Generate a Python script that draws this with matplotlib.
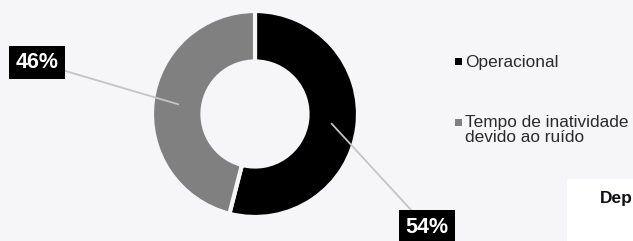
import numpy as np
import matplotlib
matplotlib.use("Agg")
import matplotlib.pyplot as plt
from matplotlib.patches import Rectangle

plt.rcParams['font.family'] = ['Liberation Sans', 'DejaVu Sans']

# ---- data ----
categories = ["Operacional", "Tempo de inatividade\ndevido ao ruído"]
values = [54, 46]
colors = ["#000000", "#808080"]
pct_labels = ["54%", "46%"]
title_fragment = "Dep"

BG = "#f6f6f9"
W, H = 633, 241
fig = plt.figure(figsize=(W / 100, H / 100), dpi=100, facecolor=BG)

def fx(x):
    return x / W

def fy(y):
    return 1 - y / H

# white panel at lower right (part of a neighbouring slide element)
fig.patches.append(Rectangle((fx(567), 0), 1 - fx(567), fy(179), transform=fig.transFigure,
                             facecolor="white", edgecolor="none", zorder=0))
fig.text(fx(600), fy(199), title_fragment, fontsize=12.5, fontweight="bold",
         color="#111111", va="center", ha="left")

# donut axes: centre (255,114) px, radius 103 px
R = 103
cx, cy = 255, 114
lim = 1.05
half = lim * R
ax = fig.add_axes([fx(cx - half), fy(cy + half), 2 * half / W, 2 * half / H])
ax.patch.set_alpha(0)

wedges, _ = ax.pie(values, colors=colors, startangle=90, counterclock=False,
                   radius=1.0, wedgeprops=dict(width=0.49, edgecolor=BG, linewidth=3))
ax.set_xlim(-lim, lim)
ax.set_ylim(-lim, lim)
ax.set_aspect("equal")
ax.axis("off")

# percentage labels with leader lines
label_pos = {0: (1.67, -1.10), 1: (-2.12, 0.50)}
for i, w in enumerate(wedges):
    ang = np.deg2rad((w.theta1 + w.theta2) / 2)
    px, py = 0.75 * np.cos(ang), 0.75 * np.sin(ang)
    ax.annotate(pct_labels[i], xy=(px, py), xytext=label_pos[i], textcoords="data",
                fontsize=15.5, fontweight="bold", color="white", ha="center", va="center",
                bbox=dict(boxstyle="square,pad=0.3", facecolor="black", edgecolor="none"),
                arrowprops=dict(arrowstyle="-", color="#c4c4c4", lw=1.3, shrinkA=0, shrinkB=0),
                annotation_clip=False)

# legend
leg_x = 455
sq = 7
leg_rows = [(62, [categories[0]]), (122, categories[1].split("\n"))]
for (ty, lines), col in zip(leg_rows, colors):
    fig.patches.append(Rectangle((fx(leg_x), fy(ty + sq / 2)), sq / W, sq / H,
                                 transform=fig.transFigure, facecolor=col, edgecolor="none"))
    for k, line in enumerate(lines):
        fig.text(fx(leg_x + 10), fy(ty + k * 15), line,
                 fontsize=12.4, color="#2a2a2a", va="center", ha="left")

fig.savefig("out.png", dpi=100, facecolor=BG)
